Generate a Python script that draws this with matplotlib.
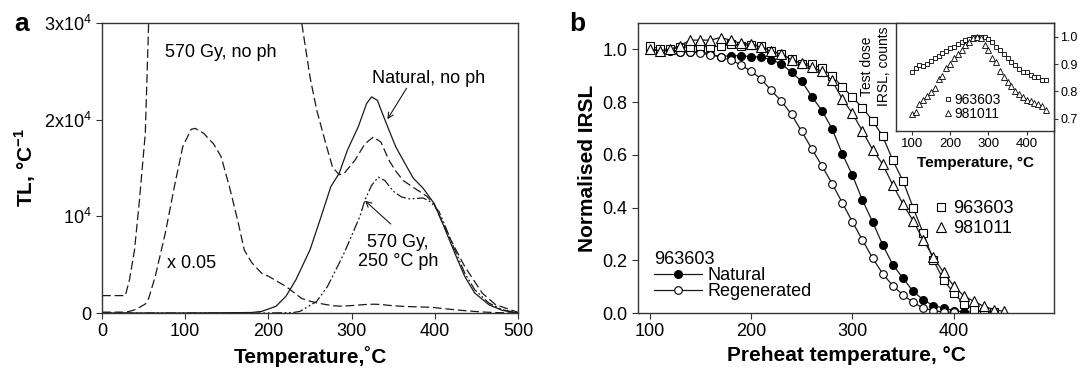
import matplotlib
matplotlib.use('Agg')
import matplotlib.pyplot as plt
import numpy as np

plt.rcParams['font.family'] = ['Liberation Sans', 'DejaVu Sans']
plt.rcParams['mathtext.fontset'] = 'custom'
plt.rcParams['mathtext.rm'] = 'Liberation Sans'
plt.rcParams['mathtext.bf'] = 'Liberation Sans:bold'

# ---- panel a: TL glow curves ----
# 570 Gy, no preheat (unscaled; drawn again at x 0.05)
gy570_t = [0, 10, 20, 28, 33, 39, 45, 52, 56, 64, 76, 87, 97, 107, 112, 122, 134,
           143, 153, 163, 171, 180, 192, 200, 221, 240, 250, 258, 269, 277, 285,
           291, 304, 316, 326, 335, 345, 352, 362, 374, 390, 399, 415, 436, 457,
           473, 500]
gy570_tl = [1800, 1800, 1800, 1800, 3450, 6500, 11700, 18600, 30000, 76000, 165000,
            262000, 344000, 380000, 382000, 372000, 350000, 324000, 262000, 192000,
            130000, 104000, 82000, 76000, 55000, 30000, 24400, 21000, 17500, 15100,
            14300, 14450, 15800, 17500, 18200, 17700, 15800, 14800, 13700, 13000,
            12100, 11300, 8250, 4800, 2060, 860, 70]

nat_t = [0, 100, 180, 192, 209, 221, 233, 250, 262, 275, 285, 295, 308, 318, 324,
         331, 337, 345, 353, 362, 374, 386, 399, 411, 424, 436, 448, 465, 481, 500]
nat_tl = [0, 0, 50, 170, 690, 1720, 3440, 6540, 9630, 13070, 14450, 16860, 19270,
          21670, 22360, 22000, 20640, 18900, 17200, 15800, 13960, 12900, 11350,
          8940, 6190, 3780, 2060, 860, 275, 0]

ph_t = [0, 200, 230, 238, 258, 271, 283, 291, 300, 310, 316, 324, 332, 340, 350,
        360, 370, 386, 395, 405, 411, 424, 436, 448, 465, 481, 500]
ph_tl = [0, 0, 50, 170, 1200, 2750, 4800, 6200, 8000, 10000, 11700, 13200, 14050,
         13700, 12600, 12000, 11800, 11900, 11500, 10500, 9300, 6540, 4130, 2400,
         1030, 340, 0]
scale_factor = 0.05

# ---- panel b: IRSL vs preheat ----
ph_temp = list(range(100, 460, 10))
natural = [1.0, 0.995, 0.995, 0.99, 0.989, 0.992, 0.982, 0.972, 0.976, 0.976, 0.972,
           0.972, 0.96, 0.945, 0.913, 0.879, 0.821, 0.768, 0.699, 0.605, 0.523,
           0.428, 0.346, 0.258, 0.183, 0.132, 0.082, 0.050, 0.028, 0.019, 0.009,
           0.004, 0.004]
regen = [1.0, 0.995, 0.995, 0.99, 0.99, 0.985, 0.98, 0.97, 0.96, 0.941, 0.917, 0.888,
         0.844, 0.804, 0.753, 0.689, 0.623, 0.558, 0.491, 0.419, 0.346, 0.277,
         0.208, 0.149, 0.103, 0.069, 0.040, 0.019, 0.009, 0.004, 0.003]
sq_963603 = [1.014, 1.001, 1.0, 1.008, 1.01, 1.014, 1.008, 1.014, 1.02, 1.014, 1.018,
             1.014, 0.995, 0.982, 0.963, 0.945, 0.945, 0.929, 0.9, 0.859, 0.819,
             0.778, 0.73, 0.67, 0.579, 0.501, 0.4, 0.302, 0.2, 0.126, 0.076, 0.035,
             0.013, 0.003, 0.003]
tri_981011 = [1.0, 0.995, 1.0, 1.014, 1.035, 1.035, 1.035, 1.045, 1.035, 1.023, 1.02,
              1.008, 0.992, 0.982, 0.96, 0.947, 0.932, 0.917, 0.882, 0.812, 0.758,
              0.69, 0.62, 0.564, 0.485, 0.413, 0.35, 0.277, 0.212, 0.154, 0.103,
              0.065, 0.044, 0.025, 0.013, 0.006]

# inset: test dose IRSL
td_963603 = [0.87, 0.887, 0.895, 0.893, 0.9, 0.91, 0.922, 0.93, 0.94, 0.948, 0.957,
             0.964, 0.972, 0.98, 0.987, 0.993, 0.998, 1.0, 1.0, 0.998, 0.99, 0.98,
             0.964, 0.951, 0.936, 0.921, 0.909, 0.897, 0.882, 0.87, 0.87, 0.86,
             0.854, 0.854, 0.842, 0.841]
td_981011 = [0.717, 0.724, 0.753, 0.769, 0.784, 0.797, 0.814, 0.846, 0.858, 0.887,
             0.899, 0.921, 0.936, 0.951, 0.97, 0.982, 0.994, 1.0, 0.996, 0.97, 0.951,
             0.923, 0.906, 0.875, 0.854, 0.836, 0.818, 0.802, 0.79, 0.778, 0.769,
             0.763, 0.757, 0.753, 0.745, 0.733]

fig = plt.figure(figsize=(10.81, 3.74), dpi=100)
ax_a = fig.add_axes([0.0944, 0.1631, 0.3848, 0.7754])
ax_b = fig.add_axes([0.5902, 0.1631, 0.3848, 0.7754])
ax_in = fig.add_axes([0.8289, 0.6497, 0.1461, 0.2888])

for ax in (ax_a, ax_b, ax_in):
    for sp in ax.spines.values():
        sp.set_color('#333333')
        sp.set_linewidth(1.0)
    ax.tick_params(direction='out', length=4, width=0.8, color='#333333')

# panel a
lc = '#1a1a1a'
ax_a.plot(gy570_t, gy570_tl, color=lc, lw=0.9, dashes=(7, 3))
ax_a.plot(gy570_t, np.array(gy570_tl) * scale_factor, color=lc, lw=0.9, dashes=(7, 3))
ax_a.plot(nat_t, nat_tl, color=lc, lw=0.9)
ax_a.plot(ph_t, ph_tl, color=lc, lw=0.9, dashes=(8, 2, 1.5, 2, 1.5, 2))
ax_a.set_xlim(0, 500)
ax_a.set_ylim(0, 30000)
ax_a.set_xticks([0, 100, 200, 300, 400, 500])
ax_a.set_yticks([0, 10000, 20000, 30000])
ax_a.set_yticklabels(['0', r'10$^{4}$', r'2x10$^{4}$', r'3x10$^{4}$'])
ax_a.tick_params(labelsize=13)
ax_a.set_xlabel('Temperature,˚C', fontsize=15, fontweight='bold')
ax_a.set_ylabel(r'TL, °C$^{\mathbf{-1}}$', fontsize=15, fontweight='bold')

ax_a.text(76, 27000, '570 Gy, no ph', fontsize=13, va='center')
ax_a.text(325, 24280, 'Natural, no ph', fontsize=13, va='center')
ax_a.text(78, 5160, 'x 0.05', fontsize=13, va='center')
ax_a.text(356, 6350, '570 Gy,\n250 °C ph', fontsize=13, ha='center', va='center',
          multialignment='center', linespacing=1.15)
arrow = dict(arrowstyle='->', lw=0.8, color=lc, shrinkA=0, shrinkB=0)
ax_a.annotate('', xy=(343, 20040), xytext=(366, 23245), arrowprops=arrow)
ax_a.annotate('', xy=(316, 11620), xytext=(347, 9207), arrowprops=arrow)
fig.text(0.013, 0.935, 'a', fontsize=19, fontweight='bold', va='center')

# panel b
ax_b.plot(ph_temp[:len(natural)], natural, color=lc, lw=0.9, marker='o', ms=5.5,
          mfc='black', mec='black', label='Natural')
ax_b.plot(ph_temp[:len(regen)], regen, color=lc, lw=0.9, marker='o', ms=5.5,
          mfc='white', mec='black', mew=0.8, label='Regenerated')
sq_line, = ax_b.plot(ph_temp[:len(sq_963603)], sq_963603, color=lc, lw=0.9,
                     marker='s', ms=6, mfc='white', mec='black', mew=0.8)
tri_line, = ax_b.plot(ph_temp[:len(tri_981011)], tri_981011, color=lc, lw=0.9,
                      marker='^', ms=6.5, mfc='white', mec='black', mew=0.8)
ax_b.set_xlim(88.5, 499)
ax_b.set_ylim(0, 1.1)
ax_b.set_xticks([100, 200, 300, 400])
ax_b.set_yticks([0, 0.2, 0.4, 0.6, 0.8, 1.0])
ax_b.set_yticklabels(['0.0', '0.2', '0.4', '0.6', '0.8', '1.0'])
ax_b.tick_params(labelsize=13)
ax_b.set_xlabel('Preheat temperature, °C', fontsize=15, fontweight='bold')
ax_b.set_ylabel('Normalised IRSL', fontsize=15, fontweight='bold')
fig.text(0.527, 0.935, 'b', fontsize=19, fontweight='bold', va='center')

leg1 = ax_b.legend(loc='lower left', bbox_to_anchor=(0.038, 0.045), frameon=False,
                   title='963603', title_fontsize=13, fontsize=13, alignment='left',
                   handlelength=2.67, handletextpad=0.33, labelspacing=-0.05,
                   borderpad=0, borderaxespad=0)
ax_b.add_artist(leg1)
sq_h = plt.Line2D([], [], ls='none', marker='s', ms=6, mfc='white', mec='black', mew=0.8)
tri_h = plt.Line2D([], [], ls='none', marker='^', ms=6.5, mfc='white', mec='black', mew=0.8)
ax_b.legend([sq_h, tri_h], ['963603', '981011'], loc='lower left',
            bbox_to_anchor=(0.7175, 0.262), frameon=False, fontsize=13,
            handlelength=0.5, handletextpad=0.42, labelspacing=0.17,
            borderpad=0, borderaxespad=0)

# inset
ax_in.set_facecolor('white')
in_sq, = ax_in.plot(ph_temp, td_963603, ls='none', marker='s', ms=3.5, mfc='white',
                    mec='black', mew=0.6)
in_tri, = ax_in.plot(ph_temp, td_981011, ls='none', marker='^', ms=3.8, mfc='white',
                     mec='black', mew=0.6)
ax_in.set_xlim(59, 471)
ax_in.set_ylim(0.655, 1.05)
ax_in.set_xticks([100, 200, 300, 400])
ax_in.set_yticks([0.7, 0.8, 0.9, 1.0])
ax_in.yaxis.tick_right()
ax_in.tick_params(axis='x', labelsize=9.5, length=3, pad=2)
ax_in.tick_params(axis='y', labelsize=9, length=3, pad=1.5)
ax_in.set_xlabel('Temperature, °C', fontsize=11, fontweight='bold')
ax_in.text(-0.13, 0.6, 'Test dose\nIRSL, counts', rotation=90, fontsize=10,
           ha='center', va='center', transform=ax_in.transAxes)
ax_in.legend([in_sq, in_tri], ['963603', '981011'], loc='lower left',
             bbox_to_anchor=(0.311, 0.09), frameon=False, fontsize=10,
             handlelength=0.4, handletextpad=0.23, labelspacing=0.05,
             borderpad=0, borderaxespad=0)

fig.savefig('out.png', dpi=100)
